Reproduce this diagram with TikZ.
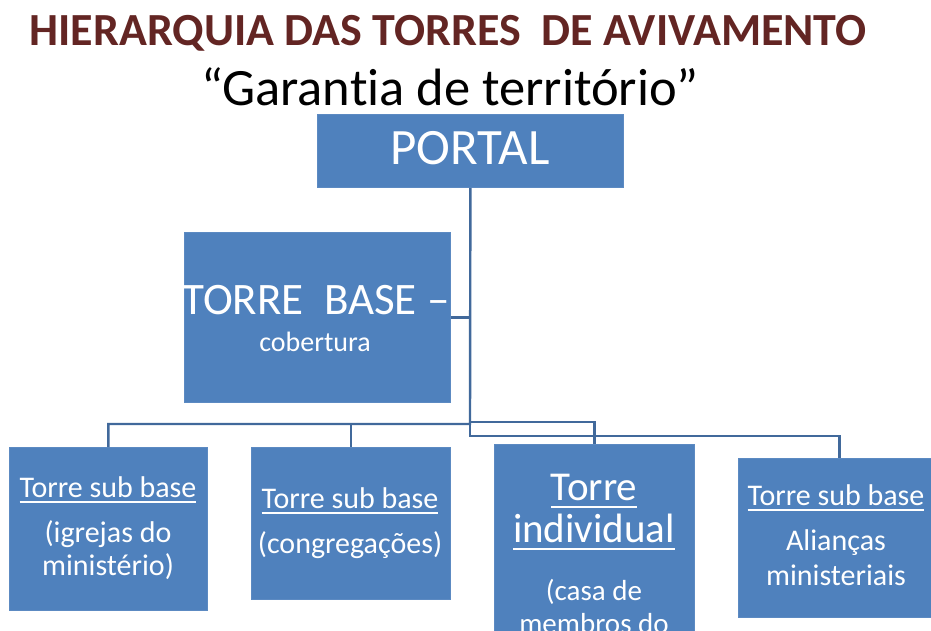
\documentclass[tikz,border=0pt]{standalone}
\usepackage{fontspec}
\setmainfont{Carlito}[Ligatures=NoCommon]
\definecolor{boxblue}{HTML}{4F81BD}
\definecolor{boxedge}{HTML}{5C8AC2}
\definecolor{linkblue}{HTML}{41699B}
\definecolor{titlered}{HTML}{632523}
\newcommand\myul[1]{\setbox0\hbox{#1}\rlap{\rule[-0.19em]{\wd0}{0.055em}}\box0}
\begin{document}
\begin{tikzpicture}[x=1pt,y=-1pt,
  box/.style={fill=boxblue, draw=boxedge, line width=0.8pt, inner sep=0pt, anchor=north west},
  lbl/.style={text=white, anchor=base, inner sep=0pt},
  link/.style={draw=linkblue, line width=2.4pt}]
\useasboundingbox (0,0) rectangle (931,631);
\clip (0,0) rectangle (931,631);
% title
\node[anchor=base, inner sep=0pt, text=titlered, font=\bfseries\fontsize{46}{52}\selectfont] (title) at (448,46) {HIERARQUIA DAS TORRES~ DE AVIVAMENTO};
\node[anchor=base, inner sep=0pt, font=\fontsize{52.5}{58}\selectfont] (subtitle) at (450,106) {“Garantia de território”};
% boxes
\node[box, minimum width=306pt, minimum height=73pt] (portal) at (317,114) {};
\node[box, minimum width=266pt, minimum height=170pt] (tb) at (184,232) {};
\node[box, minimum width=198pt, minimum height=163pt] (b1) at (9,447) {};
\node[box, minimum width=199pt, minimum height=152pt] (b2) at (251,447) {};
\node[box, minimum width=200pt, minimum height=220pt] (b3) at (494,444) {};
\node[box, minimum width=202pt, minimum height=159pt] (b4) at (738,458) {};
% connectors
\coordinate (busA) at (470,424);
\coordinate (busB) at (470,422);
\coordinate (busC) at (470,436);
\draw[link] (tb.east) -- (tb.east -| portal.south);
\draw[link] (portal.south) -- (busA) -| (b1.north);
\draw[link] (busA) -| (b2.north);
\draw[link] (busB) -| (b3.north);
\draw[link] (busA) -- (busC) -| (b4.north);
% texts
\node[lbl, font=\fontsize{51}{60}\selectfont] (tportal) at (470,165) {PORTAL};
\node[lbl, font=\fontsize{45}{52}\selectfont] (ttb1) at (316,314) {TORRE~ BASE –};
\node[lbl, font=\fontsize{28}{34}\selectfont] (ttb2) at (315,351) {cobertura};
\begin{scope}[every node/.style={lbl, font=\fontsize{30}{36}\selectfont}]
\node (t11) at (108,497) {\myul{Torre sub base}};
\node (t12) at (108,542) {(igrejas do};
\node (t13) at (108,575) {ministério)};
\node (t21) at (350,508) {\myul{Torre sub base}};
\node (t22) at (350,553) {(congregações)};
\node (t41) at (836,505) {\myul{Torre sub base}};
\node (t42) at (836,550) {Alianças};
\node (t43) at (836,585) {ministeriais};
\end{scope}
\node[lbl, font=\fontsize{41}{48}\selectfont] (t31) at (594,500) {\myul{Torre}};
\node[lbl, font=\fontsize{41}{48}\selectfont] (t32) at (594,542) {\myul{individual}};
\node[lbl, font=\fontsize{29}{34}\selectfont] (t33) at (594,600) {(casa de};
\node[lbl, font=\fontsize{29}{34}\selectfont] (t34) at (594,633) {membros do};
\end{tikzpicture}
\end{document}
